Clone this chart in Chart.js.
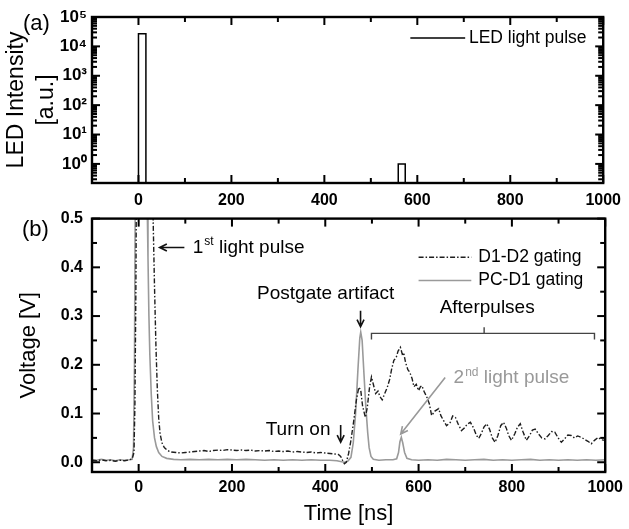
<!DOCTYPE html>
<html>
<head>
<meta charset="utf-8">
<script src="https://cdn.jsdelivr.net/npm/chart.js@4.4.1/dist/chart.umd.min.js"></script>
<style>
  body { margin: 0; background: #fff; }
  #wrap { position: relative; width: 629px; height: 529px; overflow: hidden; }
  canvas { position: absolute; left: 0; }
  #chartA { top: 0; }
  #chartB { top: 200px; }
</style>
</head>
<body>
<div id="wrap">
  <canvas id="chartA" width="629" height="212"></canvas>
  <canvas id="chartB" width="629" height="329"></canvas>
</div>
<script>
// ---- data ----
// (a) LED light pulse: outline of two rectangular pulses (0.01 = "off", below the axis)
var ledTime      = [-100, 0, 0, 16, 16, 559, 559, 574, 574, 1000];
var ledIntensity = [0.01, 0.01, 27000, 27000, 0.01, 0.01, 1, 1, 0.01, 0.01];

// (b) D1-D2 gating
var d1d2Time = [
  -100, -90, -80, -70, -60, -50, -40, -30, -20, -14,
  -10, -8, -6, -3, 28, 31, 34, 37, 40, 43,
  46, 50, 55, 62, 70, 80, 90, 100, 110, 120,
  130, 140, 150, 160, 170, 180, 190, 200, 210, 220,
  230, 240, 250, 260, 270, 280, 290, 300, 310, 320,
  330, 340, 350, 360, 370, 380, 390, 400, 410, 420,
  428, 433, 437, 441, 445, 450, 455, 461, 467, 472,
  476, 480, 486, 490, 495, 499, 503, 508, 513, 517,
  522, 527, 533, 538, 542, 547, 552, 556, 561, 565,
  568, 572, 577, 581, 586, 590, 595, 600, 604, 607,
  612, 618, 623, 628, 635, 643, 648, 654, 660, 668,
  673, 679, 685, 692, 698, 704, 711, 718, 724, 729,
  735, 740, 746, 752, 758, 764, 770, 776, 782, 788,
  793, 799, 806, 812, 818, 824, 831, 838, 844, 850,
  857, 864, 871, 878, 885, 892, 899, 906, 913, 920,
  927, 934, 941, 949, 956, 963, 970, 977, 985, 992,
  1000
];
var d1d2Volt = [
  0.004, 0.003, 0.005, 0.003, 0.004, 0.002, 0.004, 0.003, 0.005, 0.007,
  0.02, 0.12, 0.35, 0.9, 0.9, 0.5, 0.36, 0.24, 0.15, 0.09,
  0.058, 0.04, 0.03, 0.024, 0.021, 0.02, 0.019, 0.02, 0.021, 0.022,
  0.023, 0.024, 0.022, 0.024, 0.025, 0.024, 0.026, 0.025, 0.024, 0.025,
  0.024, 0.025, 0.023, 0.024, 0.023, 0.024, 0.022, 0.023, 0.022, 0.023,
  0.021, 0.022, 0.021, 0.02, 0.021, 0.019, 0.02, 0.019, 0.018, 0.017,
  0.016, 0.012, 0.004, -0.003, 0.0, 0.018, 0.045, 0.085, 0.13, 0.154,
  0.148, 0.115, 0.092, 0.112, 0.155, 0.175, 0.16, 0.141, 0.146, 0.135,
  0.128, 0.14, 0.154, 0.17, 0.19, 0.209, 0.215, 0.228, 0.236, 0.222,
  0.225, 0.205, 0.19, 0.185, 0.172, 0.155, 0.16, 0.147, 0.155, 0.157,
  0.145, 0.133, 0.12, 0.096, 0.105, 0.11, 0.095, 0.085, 0.075, 0.082,
  0.095, 0.092, 0.078, 0.065, 0.07, 0.078, 0.082, 0.07, 0.055, 0.049,
  0.06, 0.072, 0.079, 0.068, 0.05, 0.041, 0.055, 0.075, 0.082, 0.07,
  0.055, 0.045, 0.058, 0.072, 0.079, 0.062, 0.045, 0.055, 0.066, 0.068,
  0.058, 0.05, 0.048, 0.055, 0.063, 0.062, 0.05, 0.041, 0.048, 0.056,
  0.055, 0.05, 0.054, 0.051, 0.047, 0.043, 0.038, 0.045, 0.051, 0.046,
  0.045
];

// (b) PC-D1 gating
var pcd1Time = [
  -100, -90, -80, -70, -60, -50, -40, -30, -20, -14,
  -11, -9, -7, -5, 16, 18, 20, 22, 24, 27,
  30, 34, 38, 43, 50, 60, 75, 90, 110, 130,
  150, 170, 190, 210, 230, 250, 270, 290, 310, 330,
  350, 370, 390, 410, 425, 435, 442, 448, 455, 460,
  465, 470, 474, 476, 479, 483, 487, 491, 494, 498,
  503, 515, 530, 545, 553, 557, 560, 563, 566, 570,
  575, 585, 600, 620, 640, 660, 680, 700, 720, 740,
  760, 780, 800, 820, 840, 860, 880, 900, 920, 940,
  960, 980, 1000
];
var pcd1Volt = [
  0.005, 0.004, 0.006, 0.004, 0.005, 0.003, 0.005, 0.004, 0.005, 0.006,
  0.03, 0.2, 0.6, 0.9, 0.9, 0.55, 0.42, 0.3, 0.22, 0.14,
  0.085, 0.05, 0.032, 0.02, 0.012, 0.008, 0.006, 0.005, 0.006, 0.005,
  0.006, 0.005, 0.006, 0.005, 0.006, 0.005, 0.004, 0.005, 0.004, 0.005,
  0.004, 0.005, 0.004, 0.004, 0.003, 0.001, 0.0, 0.002, 0.01, 0.04,
  0.1, 0.19, 0.255, 0.267, 0.25, 0.18, 0.113, 0.06, 0.03, 0.012,
  0.006, 0.004, 0.005, 0.005, 0.007, 0.02, 0.042, 0.051, 0.04, 0.02,
  0.008, 0.005, 0.004, 0.005, 0.004, 0.006, 0.005, 0.004, 0.005, 0.006,
  0.004, 0.005, 0.004, 0.005, 0.006, 0.004, 0.005, 0.004, 0.005, 0.004,
  0.005, 0.004, 0.005
];

var timeTicks = [0, 200, 400, 600, 800, 1000];
var timeMinor = [100, 300, 500, 700, 900];
var ledTicks = [1, 10, 100, 1000, 10000, 100000];
var voltTicks = [0, 0.1, 0.2, 0.3, 0.4, 0.5];
var voltMinor = [0.05, 0.15, 0.25, 0.35, 0.45];

var FONT = '"Liberation Sans", Arial, Helvetica, sans-serif';
var SUP = ['\u2070', '\u00b9', '\u00b2', '\u00b3', '\u2074', '\u2075'];
Chart.defaults.font.family = FONT;
Chart.defaults.color = '#000';

function pts(xs, ys) {
  return xs.map(function (x, i) { return { x: x, y: ys[i] }; });
}

// logarithmic minor ticks 2..9 per decade
function logMinors(lo, hi) {
  var out = [];
  for (var d = 0.1; d < hi; d *= 10) {
    for (var k = 2; k <= 9; k++) {
      var v = k * d;
      if (v > lo && v < hi) out.push(v);
    }
  }
  return out;
}

// frame with inward ticks on all four sides (filled rects, no path state)
function makeFrame(xMajor, xMinor, yMajor, yMinor) {
  return {
    id: 'frame',
    afterDraw: function (chart) {
      var ctx = chart.ctx, a = chart.chartArea;
      var xs = chart.scales.x, ys = chart.scales.y;
      ctx.save();
      ctx.setLineDash([]);
      ctx.globalAlpha = 1;
      ctx.fillStyle = '#000';
      function xt(v, len) {
        var p = xs.getPixelForValue(v);
        ctx.fillRect(p - 1, a.bottom - len, 2, len);
        ctx.fillRect(p - 1, a.top, 2, len);
      }
      function yt(v, len) {
        var p = ys.getPixelForValue(v);
        ctx.fillRect(a.left, p - 1, len, 2);
        ctx.fillRect(a.right - len, p - 1, len, 2);
      }
      xMajor.forEach(function (v) { xt(v, 8); });
      xMinor.forEach(function (v) { xt(v, 5); });
      yMajor.forEach(function (v) { yt(v, 8); });
      yMinor.forEach(function (v) { yt(v, 5); });
      ctx.strokeStyle = '#000';
      ctx.lineWidth = 2.4;
      ctx.strokeRect(a.left, a.top, a.right - a.left, a.bottom - a.top);
      ctx.restore();
    }
  };
}

function arrowHead(ctx, x1, y1, x2, y2) {
  var ang = Math.atan2(y2 - y1, x2 - x1), h = 8, w = 0.45;
  ctx.beginPath();
  ctx.moveTo(x1, y1); ctx.lineTo(x2, y2);
  ctx.moveTo(x2 - h * Math.cos(ang - w), y2 - h * Math.sin(ang - w));
  ctx.lineTo(x2, y2);
  ctx.lineTo(x2 - h * Math.cos(ang + w), y2 - h * Math.sin(ang + w));
  ctx.stroke();
}

// panel (a) legend and label
var panelA = {
  id: 'panelA',
  afterDraw: function (chart) {
    var ctx = chart.ctx, xs = chart.scales.x, ys = chart.scales.y;
    ctx.save();
    ctx.fillStyle = '#000';
    ctx.textAlign = 'left';
    ctx.textBaseline = 'middle';
    ctx.font = '22px ' + FONT;
    ctx.fillText('(a)', 23, 24);
    var ly = ys.getPixelForValue(19300);
    ctx.strokeStyle = '#000';
    ctx.lineWidth = 1.5;
    ctx.beginPath();
    ctx.moveTo(xs.getPixelForValue(585), ly);
    ctx.lineTo(xs.getPixelForValue(703), ly);
    ctx.stroke();
    ctx.font = '17.5px ' + FONT;
    ctx.fillText('LED light pulse', xs.getPixelForValue(711), ly);
    ctx.restore();
  }
};

// panel (b) legend, label and annotations
var panelB = {
  id: 'panelB',
  afterDraw: function (chart) {
    var ctx = chart.ctx, xs = chart.scales.x, ys = chart.scales.y;
    function X(v) { return xs.getPixelForValue(v); }
    function Y(v) { return ys.getPixelForValue(v); }
    ctx.save();
    ctx.textAlign = 'left';
    ctx.textBaseline = 'middle';
    ctx.fillStyle = '#000';
    ctx.font = '22px ' + FONT;
    ctx.fillText('(b)', 22, 30);

    // legend
    var ds = chart.data.datasets;
    [0.4207, 0.373].forEach(function (v, i) {
      ctx.save();
      ctx.strokeStyle = ds[i].borderColor;
      ctx.lineWidth = ds[i].borderWidth;
      ctx.setLineDash(ds[i].borderDash || []);
      ctx.beginPath();
      ctx.moveTo(X(600), Y(v)); ctx.lineTo(X(713), Y(v));
      ctx.stroke();
      ctx.restore();
      ctx.font = '17.5px ' + FONT;
      ctx.fillText(ds[i].label, X(728), Y(v));
    });

    ctx.strokeStyle = '#111';
    ctx.lineWidth = 1.6;
    ctx.font = '19px ' + FONT;

    // 1st light pulse
    arrowHead(ctx, X(98), Y(0.4406), X(45), Y(0.4406));
    var x0 = X(116), y0 = Y(0.4406);
    ctx.fillText('1', x0, y0);
    var w1 = ctx.measureText('1').width;
    ctx.font = '12px ' + FONT;
    ctx.fillText('st', x0 + w1 + 1, y0 - 6);
    var w2 = ctx.measureText('st').width;
    ctx.font = '19px ' + FONT;
    ctx.fillText(' light pulse', x0 + w1 + w2 + 1, y0);

    // postgate artifact
    ctx.textAlign = 'center';
    ctx.fillText('Postgate artifact', X(401), Y(0.3464));
    arrowHead(ctx, X(475.6), Y(0.311), X(475.6), Y(0.278));

    // afterpulses bracket
    ctx.fillText('Afterpulses', X(747), Y(0.3178));
    ctx.strokeStyle = '#444';
    ctx.lineWidth = 1.4;
    ctx.beginPath();
    ctx.moveTo(X(499), Y(0.252)); ctx.lineTo(X(499), Y(0.2645));
    ctx.lineTo(X(977), Y(0.2645)); ctx.lineTo(X(977), Y(0.252));
    ctx.moveTo(X(740.5), Y(0.2645)); ctx.lineTo(X(740.5), Y(0.2768));
    ctx.stroke();

    // turn on
    ctx.strokeStyle = '#111';
    ctx.lineWidth = 1.6;
    ctx.fillText('Turn on', X(341.7), Y(0.066));
    arrowHead(ctx, X(433), Y(0.0765), X(433), Y(0.041));

    // 2nd light pulse
    ctx.textAlign = 'left';
    ctx.fillStyle = '#999';
    ctx.strokeStyle = '#999';
    var x2 = X(675), y2 = Y(0.1724);
    ctx.fillText('2', x2, y2);
    var w3 = ctx.measureText('2').width;
    ctx.font = '12px ' + FONT;
    ctx.fillText('nd', x2 + w3 + 1, y2 - 6);
    var w4 = ctx.measureText('nd').width;
    ctx.font = '19px ' + FONT;
    ctx.fillText(' light pulse', x2 + w3 + w4 + 1, y2);
    arrowHead(ctx, X(657), Y(0.174), X(561.7), Y(0.058));
    ctx.restore();
  }
};

var tickFont = { size: 16, weight: 'bold' };
function plainNum(v) { return String(v); }

// ---- chart (a) ----
new Chart(document.getElementById('chartA').getContext('2d'), {
  type: 'line',
  data: {
    datasets: [{
      label: 'LED light pulse',
      data: pts(ledTime, ledIntensity),
      borderColor: '#000',
      borderWidth: 1.5,
      pointRadius: 0,
      tension: 0
    }]
  },
  options: {
    responsive: false,
    animation: false,
    layout: { padding: { top: 17, right: 22, left: 0, bottom: 0 } },
    plugins: { legend: { display: false }, tooltip: { enabled: false } },
    scales: {
      x: {
        type: 'linear', min: -100, max: 1000,
        grid: { display: false, drawTicks: false },
        border: { display: false },
        afterBuildTicks: function (s) { s.ticks = timeTicks.map(function (v) { return { value: v }; }); },
        afterFit: function (s) { s.height = 29; },
        ticks: { font: tickFont, padding: 8, maxRotation: 0, callback: plainNum }
      },
      y: {
        type: 'logarithmic', min: 0.224, max: 100000,
        grid: { display: false, drawTicks: false },
        border: { display: false },
        afterBuildTicks: function (s) { s.ticks = ledTicks.map(function (v) { return { value: v }; }); },
        afterFit: function (s) { s.width = 92; },
        ticks: {
          font: { size: 17, weight: 'bold' }, padding: 5,
          callback: function (v) { return '10' + SUP[Math.round(Math.log10(v))]; }
        },
        title: {
          display: true, text: ['LED Intensity', '[a.u.]'],
          font: { size: 23, lineHeight: 1.3 }, padding: { top: 2, bottom: 0 }
        }
      }
    }
  },
  plugins: [makeFrame(timeTicks, timeMinor, ledTicks, logMinors(0.224, 100000)), panelA]
});

// ---- chart (b) ----
new Chart(document.getElementById('chartB').getContext('2d'), {
  type: 'line',
  data: {
    datasets: [{
      label: 'D1-D2 gating',
      data: pts(d1d2Time, d1d2Volt),
      borderColor: '#1e1e1e',
      borderWidth: 1.4,
      borderDash: [5, 2, 1.5, 2],
      pointRadius: 0,
      tension: 0
    }, {
      label: 'PC-D1 gating',
      data: pts(pcd1Time, pcd1Volt),
      borderColor: '#9a9a9a',
      borderWidth: 1.6,
      pointRadius: 0,
      tension: 0
    }]
  },
  options: {
    responsive: false,
    animation: false,
    layout: { padding: { top: 18, right: 22, left: 0, bottom: 0 } },
    plugins: { legend: { display: false }, tooltip: { enabled: false } },
    scales: {
      x: {
        type: 'linear', min: -100, max: 1000,
        grid: { display: false, drawTicks: false },
        border: { display: false },
        afterBuildTicks: function (s) { s.ticks = timeTicks.map(function (v) { return { value: v }; }); },
        afterFit: function (s) { s.height = 57; },
        ticks: { font: tickFont, padding: 6, maxRotation: 0, callback: plainNum },
        title: { display: true, text: 'Time [ns]', font: { size: 22 }, padding: { top: 0, bottom: 2 } }
      },
      y: {
        type: 'linear', min: -0.02, max: 0.5,
        grid: { display: false, drawTicks: false },
        border: { display: false },
        afterBuildTicks: function (s) { s.ticks = voltTicks.map(function (v) { return { value: v }; }); },
        afterFit: function (s) { s.width = 92; },
        ticks: {
          font: tickFont, padding: 9,
          callback: function (v) { return Number(v).toFixed(1); }
        },
        title: { display: true, text: 'Voltage [V]', font: { size: 22 }, padding: { top: 16, bottom: 0 } }
      }
    }
  },
  plugins: [makeFrame(timeTicks, timeMinor, voltTicks, voltMinor), panelB]
});
</script>
</body>
</html>
